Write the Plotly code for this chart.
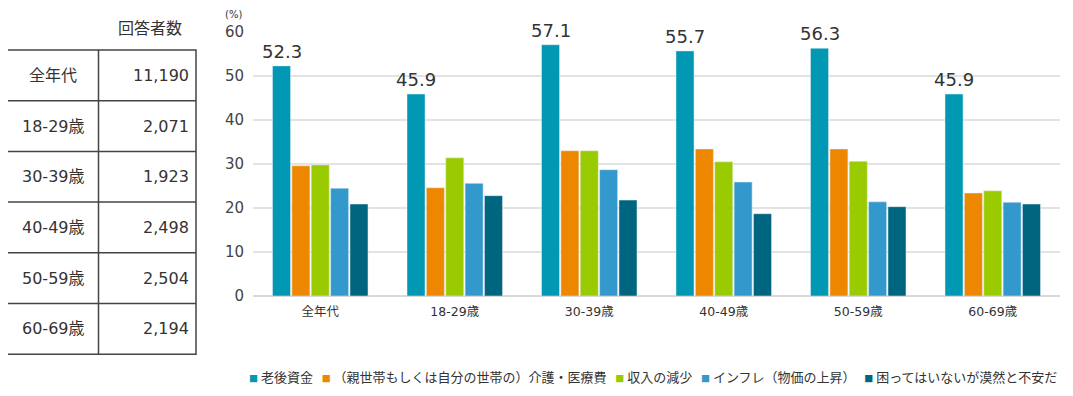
import plotly.graph_objects as go

categories = ["全年代", "18-29歳", "30-39歳", "40-49歳", "50-59歳", "60-69歳"]
series_names = ["老後資金", "（親世帯もしくは自分の世帯の）介護・医療費", "収入の減少",
                "インフレ（物価の上昇）", "困ってはいないが漠然と不安だ"]
rougo = [52.3, 45.9, 57.1, 55.7, 56.3, 45.9]
kaigo = [29.6, 24.6, 33.0, 33.4, 33.4, 23.4]
shunyu = [29.8, 31.4, 33.0, 30.5, 30.6, 23.9]
inflation = [24.5, 25.6, 28.7, 25.9, 21.4, 21.3]
bakuzen = [20.9, 22.8, 21.8, 18.7, 20.3, 20.9]
colors = ["#0098b3", "#ee8700", "#99cb00", "#3399cc", "#00657f"]
yticks = [0, 10, 20, 30, 40, 50, 60]

table_header = "回答者数"
table_rows = ["全年代", "18-29歳", "30-39歳", "40-49歳", "50-59歳", "60-69歳"]
table_counts = ["11,190", "2,071", "1,923", "2,498", "2,504", "2,194"]

OFF = 8  # page body margin
W, H = 1073 - OFF, 396 - OFF
L, R, T, B = 253 - OFF, 1060 - OFF, 32 - OFF, 296 - OFF
FONT = "DejaVu Sans, Noto Sans CJK JP"
CJK = "Noto Sans CJK JP"
TXT = "#333333"


def px(x):
    return (x - OFF - L) / (R - L)


def py(y):
    return (B - (y - OFF)) / (B - T)


fig = go.Figure()
for name, vals, c in zip(series_names, [rougo, kaigo, shunyu, inflation, bakuzen], colors):
    fig.add_trace(go.Bar(x=categories, y=vals, name=name, marker_color=c, showlegend=False))

# value labels on the first series
slot = (R - L) / len(categories) * (1 - 0.28) / len(series_names)
for cat, v in zip(categories, rougo):
    fig.add_annotation(x=cat, y=v, text=f"{v}", showarrow=False, xref="x", yref="y",
                       xshift=-2 * slot, xanchor="center", yanchor="bottom", yshift=2,
                       font=dict(size=18, color=TXT, family=FONT))

# (%) label
fig.add_annotation(x=px(233), y=py(15), xref="paper", yref="paper", text="(%)",
                   xanchor="center", yanchor="middle",
                   showarrow=False, font=dict(size=10, color=TXT, family=FONT))

# legend as one line of coloured squares and names
parts = []
for name, c in zip(series_names, colors):
    parts.append(f"<span style='color:{c};font-size:9px'>■</span>&nbsp;{name}")
fig.add_annotation(x=px(653), y=py(376), xref="paper", yref="paper",
                   text="&nbsp;&nbsp;&nbsp;".join(parts), showarrow=False,
                   xanchor="center", yanchor="middle",
                   font=dict(size=13, color=TXT, family=CJK))

# table on the left
tx0, tx1, tmid = 1, 196, 98.5
ty0, row_h = 50, 50.7
n = len(table_rows)
line = dict(color="#444444", width=1.5)
fig.add_shape(type="rect", xref="paper", yref="paper", x0=px(tx0), x1=px(tx1),
              y0=py(ty0), y1=py(ty0 + n * row_h), line=line)
fig.add_shape(type="line", xref="paper", yref="paper", x0=px(tmid), x1=px(tmid),
              y0=py(ty0), y1=py(ty0 + n * row_h), line=line)
for i in range(1, n):
    yy = ty0 + i * row_h
    fig.add_shape(type="line", xref="paper", yref="paper", x0=px(tx0), x1=px(tx1),
                  y0=py(yy), y1=py(yy), line=line)
fig.add_annotation(x=px(150), y=py(29), xref="paper", yref="paper", text=table_header,
                   xanchor="center", yanchor="middle",
                   showarrow=False, font=dict(size=16, color=TXT, family=FONT))
for i, (lab, cnt) in enumerate(zip(table_rows, table_counts)):
    yc = ty0 + (i + 0.5) * row_h
    fig.add_annotation(x=px(53), y=py(yc), xref="paper", yref="paper", text=lab,
                       xanchor="center", yanchor="middle",
                       showarrow=False, font=dict(size=16, color=TXT, family=FONT))
    fig.add_annotation(x=px(191), y=py(yc), xref="paper", yref="paper", text=cnt,
                       xanchor="right", yanchor="middle", showarrow=False,
                       font=dict(size=16, color=TXT, family=FONT))

fig.update_layout(
    width=W, height=H,
    margin=dict(l=L, r=W - R, t=T, b=H - B),
    barmode="group", bargap=0.28, bargroupgap=0.07,
    plot_bgcolor="white", paper_bgcolor="white",
    font=dict(family=FONT, color=TXT),
    xaxis=dict(tickfont=dict(size=12.5, color=TXT, family=FONT), showgrid=False,
               showline=False, ticks="", ticklabelstandoff=6),
    yaxis=dict(range=[0, 60], tickvals=yticks, tickfont=dict(size=15, color="#444444"),
               gridcolor="#e3e3e3", gridwidth=1.5, zeroline=True, zerolinecolor="#d9d9d9",
               zerolinewidth=1.5, showline=False, ticks="", ticklabelstandoff=8),
)

fig.write_html("out.html")
